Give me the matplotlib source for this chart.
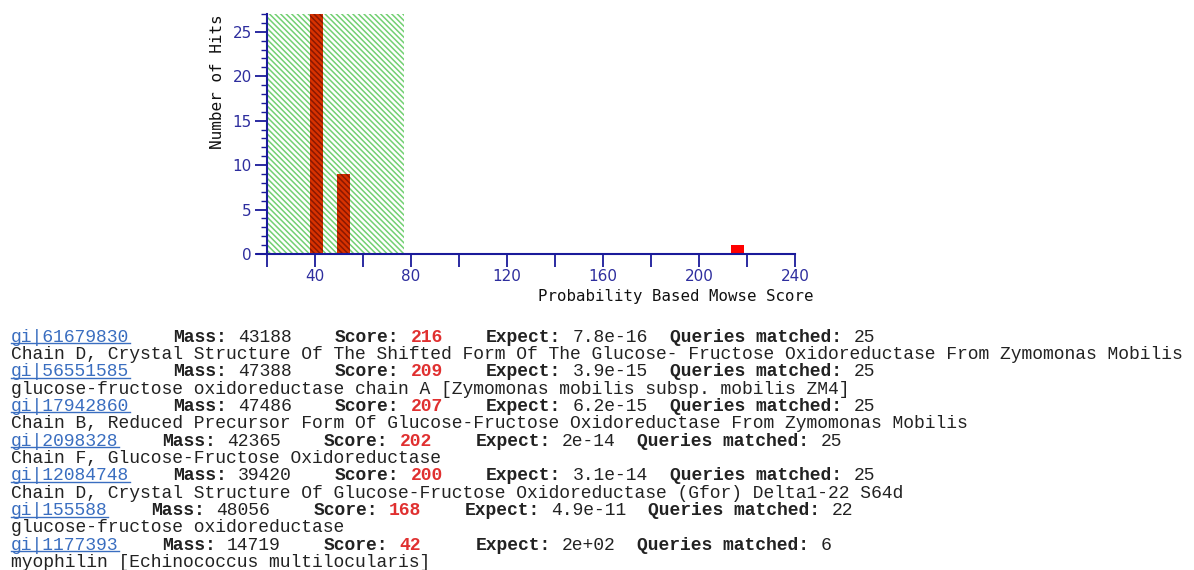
import numpy as np
import matplotlib.pyplot as plt
from matplotlib.lines import Line2D

# histogram of hits (Mowse score bins)
bin_scores = [40.6, 52.0, 216.0]
bin_hits = [27, 9, 1]
threshold = 77          # scores below this are shaded (random matches)

# hit list
ids = ['gi|61679830', 'gi|56551585', 'gi|17942860', 'gi|2098328',
       'gi|12084748', 'gi|155588', 'gi|1177393']
masses = [43188, 47388, 47486, 42365, 39420, 48056, 14719]
scores = [216, 209, 207, 202, 200, 168, 42]
expects = ['7.8e-16', '3.9e-15', '6.2e-15', '2e-14', '3.1e-14', '4.9e-11', '2e+02']
queries = [25, 25, 25, 25, 25, 22, 6]
descs = [
    'Chain D, Crystal Structure Of The Shifted Form Of The Glucose- Fructose Oxidoreductase From Zymomonas Mobilis',
    'glucose-fructose oxidoreductase chain A [Zymomonas mobilis subsp. mobilis ZM4]',
    'Chain B, Reduced Precursor Form Of Glucose-Fructose Oxidoreductase From Zymomonas Mobilis',
    'Chain F, Glucose-Fructose Oxidoreductase',
    'Chain D, Crystal Structure Of Glucose-Fructose Oxidoreductase (Gfor) Delta1-22 S64d',
    'glucose-fructose oxidoreductase',
    'myophilin [Echinococcus multilocularis]',
]

W, H = 1194, 570
axis_col = '#1a1a9a'
label_col = '#2e2e9e'
plt.rcParams['hatch.linewidth'] = 1.1

fig = plt.figure(figsize=(W / 100, H / 100), dpi=100)
ax = fig.add_axes([267 / W, 1 - 254 / H, 528 / W, 240 / H])

ax.axvspan(20, threshold, facecolor='white', edgecolor='#72d072',
           hatch='\\' * 6, lw=0, zorder=0)

for s, h in zip(bin_scores, bin_hits):
    if s < threshold:
        ax.bar(s, h, width=5.5, color='#d83200', edgecolor='#8a1800',
               hatch='\\' * 6, lw=0, zorder=2)
    else:
        ax.bar(s, h, width=5.5, color='#ff0000', lw=0, zorder=2)

ax.set_xlim(20, 240)
ax.set_ylim(0, 27)
xt = np.arange(20, 241, 20)
ax.set_xticks(xt)
ax.set_xticklabels([str(v) if v % 40 == 0 else '' for v in xt])
ax.set_yticks(range(0, 26, 5))
ax.set_yticks(range(0, 28), minor=True)
ax.tick_params(axis='both', which='major', colors=axis_col, labelcolor=label_col,
               length=9, width=1.3, labelsize=11, pad=2)
ax.tick_params(axis='y', which='minor', colors=axis_col, length=4, width=1.0)
for side in ['top', 'right']:
    ax.spines[side].set_visible(False)
for side in ['left', 'bottom']:
    ax.spines[side].set_color(axis_col)
    ax.spines[side].set_linewidth(1.5)
ax.plot([-10 / 528, 0], [0, 0], transform=ax.transAxes, color=axis_col,
        lw=1.5, clip_on=False)

fig.text(218 / W, 1 - 82 / H, 'Number of Hits', rotation=90, ha='center',
         va='center', family='DejaVu Sans Mono', fontsize=11.5, color='#111111')
fig.text(813 / W, 1 - 297 / H, 'Probability Based Mowse Score', ha='right',
         va='center', family='DejaVu Sans Mono', fontsize=11.3, color='#111111')

# hit list in monospace columns
X0, CW = 11, 10.8
Y0, LH = 337, 17.35
FS = CW / 0.6 * 0.72


def put(col, row, s, **kw):
    return fig.text((X0 + col * CW) / W, 1 - (Y0 + row * LH) / H, s,
                    family='Liberation Mono', fontsize=FS, ha='left',
                    va='center', **kw)


for i in range(len(ids)):
    row = 2 * i
    put(0, row, ids[i], color='#3a6ec0')
    yl = 1 - (Y0 + row * LH + 6) / H
    fig.add_artist(Line2D([X0 / W, (X0 + len(ids[i]) * CW) / W], [yl, yl],
                          color='#3a6ec0', lw=1.0))
    c = len(ids[i]) + 4
    put(c, row, 'Mass:', weight='bold', color='#222222')
    put(c + 6, row, str(masses[i]), color='#222222')
    c += 15
    put(c, row, 'Score:', weight='bold', color='#222222')
    put(c + 7, row, str(scores[i]), weight='bold', color='#e03030')
    c += 14
    put(c, row, 'Expect:', weight='bold', color='#222222')
    put(c + 8, row, expects[i], color='#222222')
    c += 8 + len(expects[i]) + 2
    put(c, row, 'Queries matched:', weight='bold', color='#222222')
    put(c + 17, row, str(queries[i]), color='#222222')
    put(0, row + 1, descs[i], color='#222222')

fig.savefig('out.png', dpi=100)
